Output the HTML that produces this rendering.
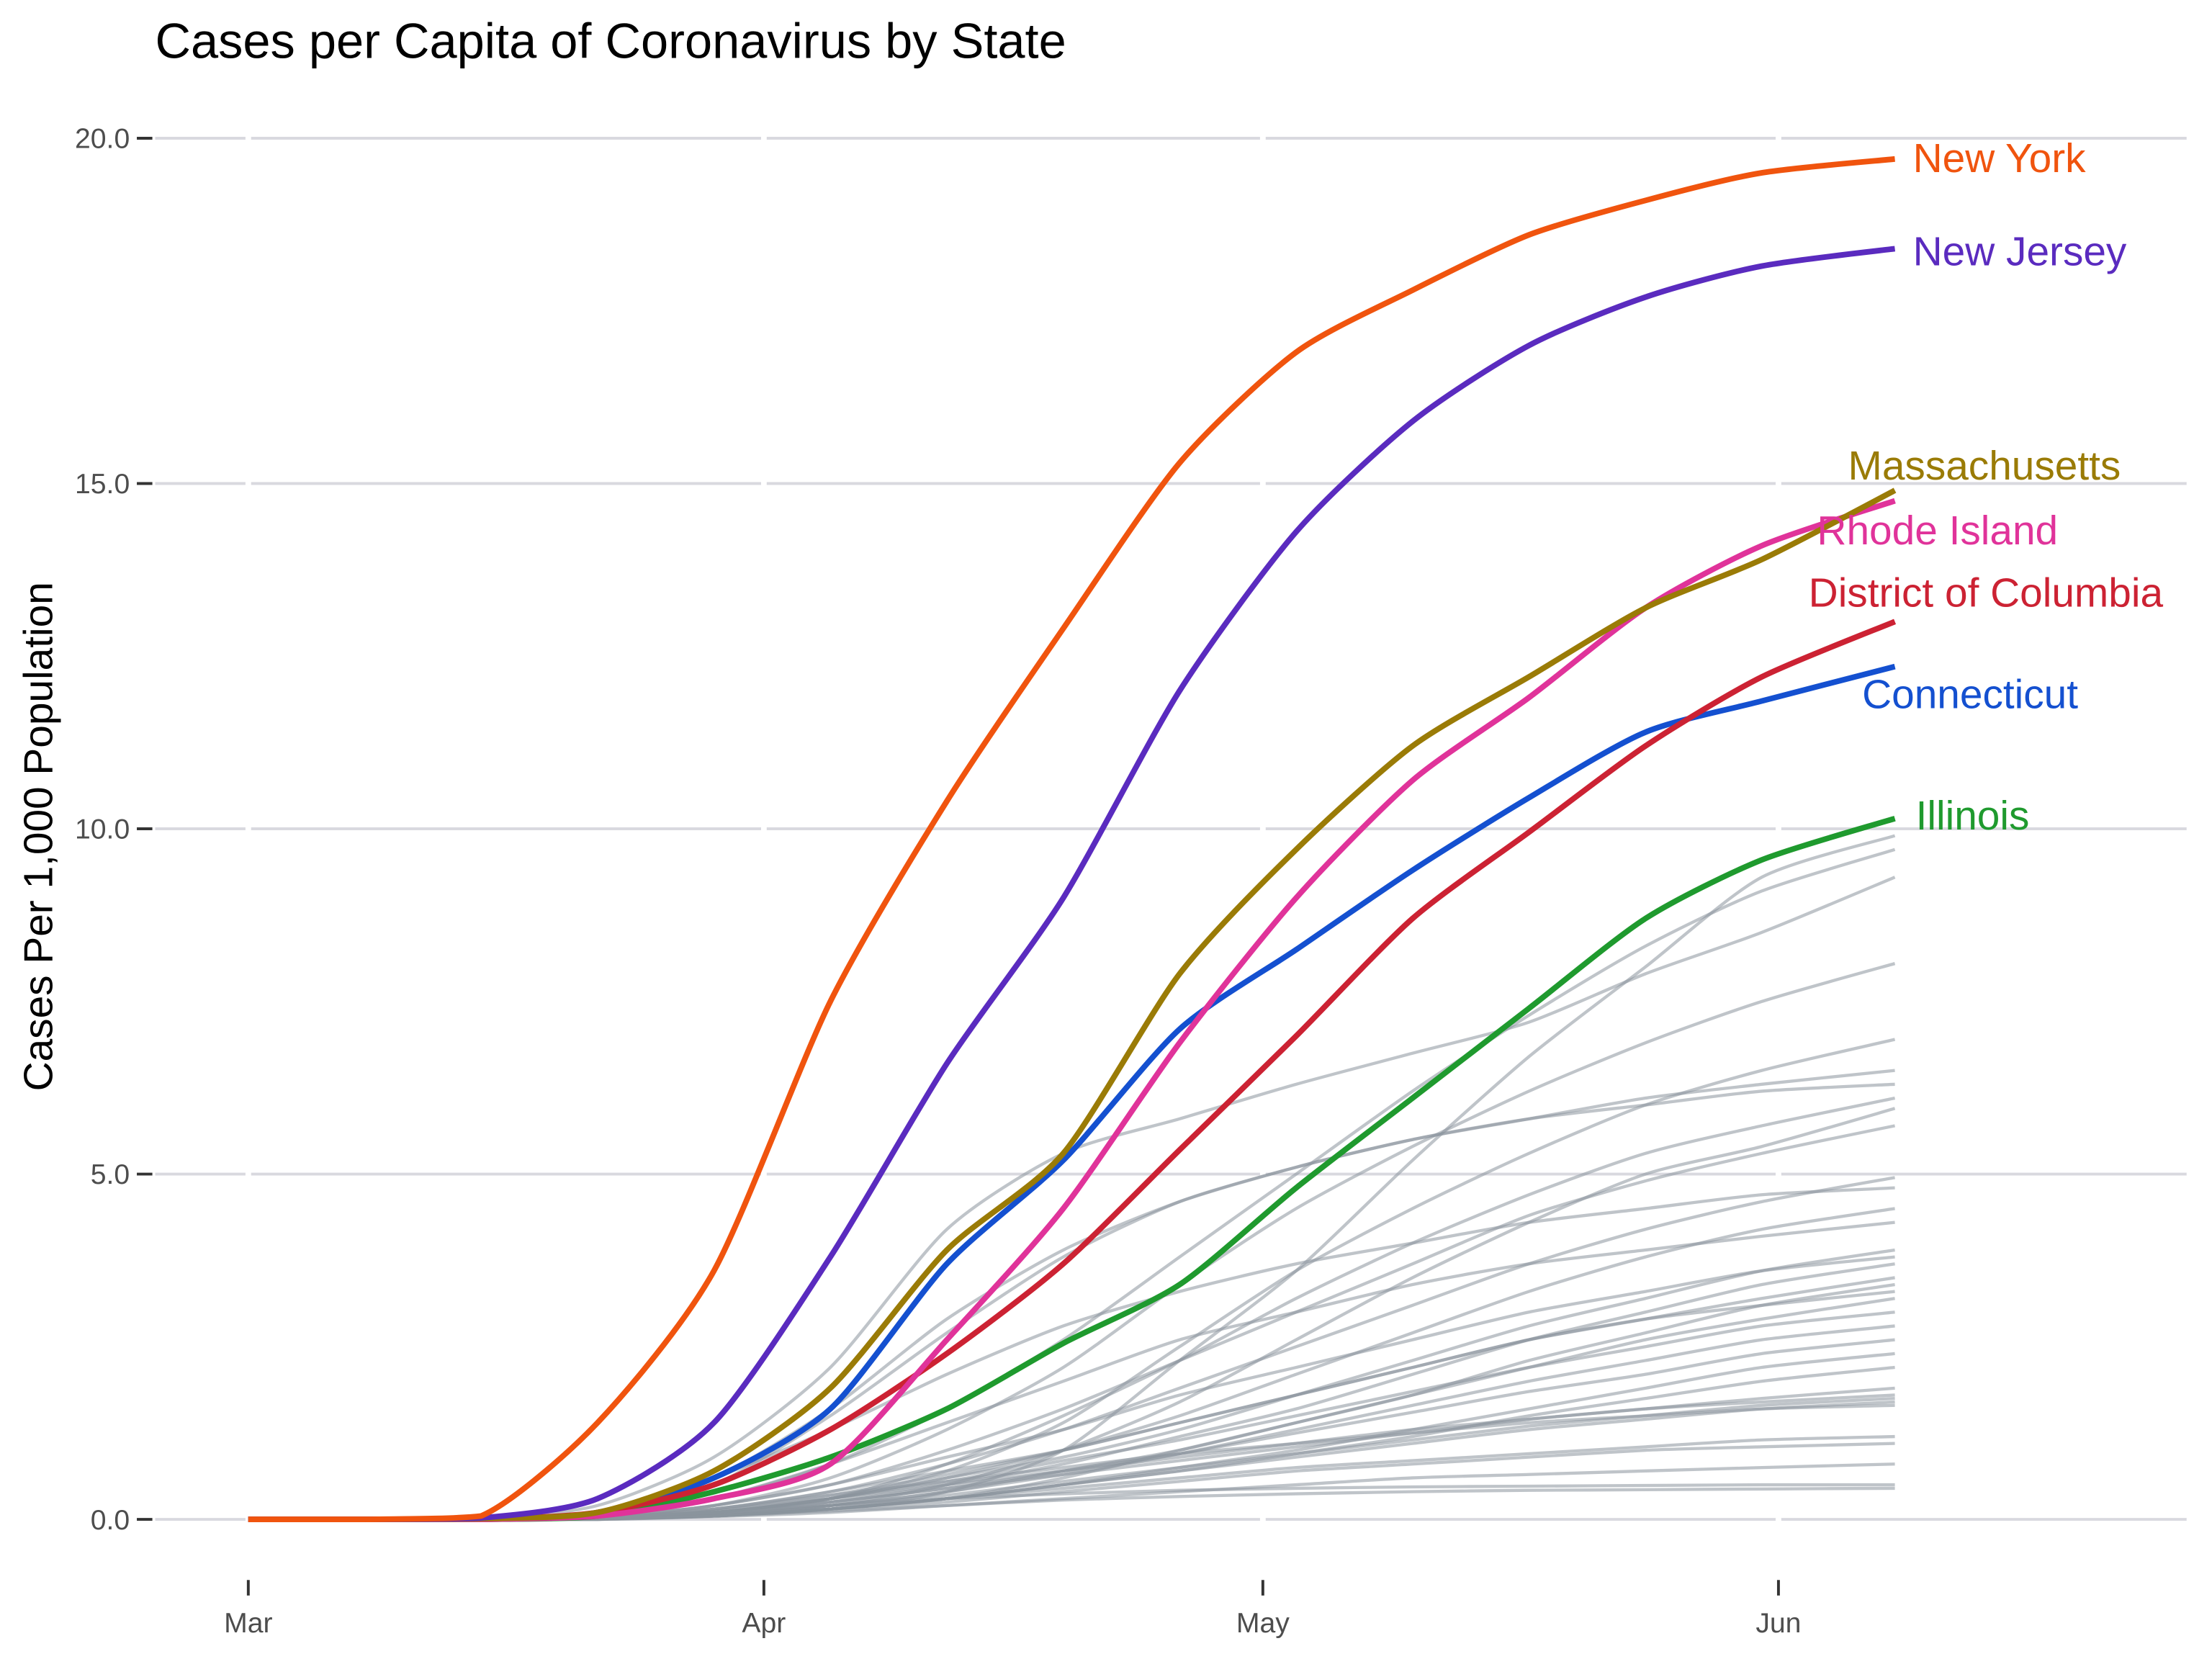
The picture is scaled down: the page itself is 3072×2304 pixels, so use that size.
<!DOCTYPE html>
<html><head><meta charset="utf-8"><style>
html,body{margin:0;padding:0;background:#fff;}
svg{display:block;font-family:"Liberation Sans",sans-serif;}
</style></head><body>
<svg id="chart" width="3072" height="2304" viewBox="0 0 1568 1176" xmlns="http://www.w3.org/2000/svg">
<rect x="0" y="0" width="1568" height="1176" fill="#fff"/>
<text x="110" y="41" font-size="35" fill="#000">Cases per Capita of Coronavirus by State</text>
<text transform="translate(37,593) rotate(-90)" text-anchor="middle" font-size="29" fill="#000">Cases Per 1,000 Population</text>
<g id="grid"></g>
<g id="axes"></g>
<g id="grey"></g>
<g id="hl"></g>
<g id="labels"></g>
</svg>
<script>
const days = [0,7,14,21,28,35,42,49,56,63,70,77,84,91,99];
const yTicks = [0,5,10,15,20];
const yTickLabels = ["0.0","5.0","10.0","15.0","20.0"];
const monthDays = [0,31,61,92];
const monthLabels = ["Mar","Apr","May","Jun"];
const hlNames = ["New York","New Jersey","Massachusetts","Rhode Island","District of Columbia","Connecticut","Illinois"];
const hlColors = ["#f0540e","#5a2bbf","#9a7b06","#e0339a","#cc2233","#1450d0","#1f9a2e"];
const newYork = [0,0,0.05,1.4,3.6,7.5,10.4,12.9,15.3,16.9,17.8,18.6,19.1,19.5,19.7];
const newJersey = [0,0,0.02,0.3,1.4,3.8,6.6,9.0,12.0,14.3,15.9,17.0,17.7,18.15,18.4];
const massachusetts = [0,0,0.01,0.1,0.7,1.9,3.9,5.3,7.9,9.7,11.2,12.2,13.2,13.9,14.9];
const rhodeIsland = [0,0,0,0.05,0.3,0.8,2.6,4.5,6.9,9.0,10.7,11.9,13.2,14.1,14.75];
const dc = [0,0,0,0.1,0.5,1.3,2.4,3.7,5.35,7.0,8.7,9.95,11.2,12.2,13.0];
const connecticut = [0,0,0,0.1,0.6,1.6,3.7,5.2,7.1,8.25,9.4,10.45,11.4,11.85,12.35];
const illinois = [0,0,0,0.05,0.4,0.9,1.6,2.55,3.4,4.8,6.1,7.4,8.7,9.55,10.15];
const hlSeries = [newYork,newJersey,massachusetts,rhodeIsland,dc,connecticut,illinois];
const g1=[0,0,0,0.2,0.9,2.2,4.2,5.3,5.8,6.3,6.75,7.2,7.9,8.5,9.3];
const g2=[0,0,0,0.05,0.3,0.8,1.6,2.6,3.8,5.0,6.2,7.3,8.3,9.1,9.7];
const g3=[0,0,0,0,0.05,0.15,0.4,1.0,2.3,3.6,5.2,6.7,8.0,9.3,9.9];
const g4=[0,0,0,0.05,0.2,0.6,1.3,2.2,3.4,4.5,5.4,6.2,6.9,7.5,8.05];
const g5=[0,0,0,0,0.1,0.3,0.7,1.4,2.5,3.6,4.5,5.3,6.0,6.5,6.95];
const g6=[0,0,0,0.05,0.5,1.5,2.7,3.8,4.6,5.1,5.5,5.8,6.1,6.3,6.5];
const g7=[0,0,0,0.1,0.6,1.6,2.9,3.9,4.6,5.1,5.5,5.8,6.0,6.2,6.3];
const g8=[0,0,0,0,0.1,0.3,0.8,1.5,2.3,3.2,4.0,4.7,5.3,5.7,6.1];
const g9=[0,0,0,0,0.05,0.2,0.5,1.0,1.7,2.6,3.5,4.3,5.0,5.4,5.95];
const g10=[0,0,0,0.02,0.2,0.5,1.0,1.6,2.3,3.0,3.7,4.4,4.9,5.3,5.7];
const g11=[0,0,0,0.02,0.15,0.4,0.8,1.3,1.9,2.5,3.1,3.7,4.2,4.6,4.95];
const g12=[0,0,0,0.1,0.6,1.3,2.1,2.8,3.3,3.7,4.0,4.3,4.5,4.7,4.8];
const g13=[0,0,0,0.02,0.1,0.3,0.6,1.0,1.5,2.1,2.7,3.3,3.8,4.2,4.5];
const g14=[0,0,0,0.05,0.3,0.8,1.4,2.0,2.6,3.0,3.4,3.7,3.9,4.1,4.3];
const g15=[0,0,0,0.02,0.1,0.3,0.6,0.9,1.3,1.8,2.3,2.8,3.2,3.6,3.9];
const g16=[0,0,0,0.02,0.2,0.5,0.9,1.3,1.8,2.2,2.6,3.0,3.3,3.6,3.8];
const g17=[0,0,0,0.01,0.08,0.25,0.5,0.8,1.2,1.6,2.1,2.6,3.0,3.4,3.7];
const g18=[0,0,0,0.02,0.15,0.4,0.7,1.0,1.4,1.8,2.2,2.6,2.9,3.2,3.5];
const g19=[0,0,0,0.01,0.05,0.15,0.3,0.6,1.0,1.4,1.8,2.3,2.7,3.1,3.4];
const g20=[0,0,0,0.02,0.12,0.35,0.65,1.0,1.4,1.8,2.2,2.6,2.9,3.1,3.3];
const g21=[0,0,0,0.01,0.06,0.2,0.4,0.7,1.0,1.4,1.8,2.2,2.6,2.9,3.2];
const g22=[0,0,0,0.02,0.1,0.3,0.55,0.85,1.15,1.5,1.85,2.2,2.5,2.8,3.0];
const g23=[0,0,0,0.01,0.06,0.2,0.4,0.65,0.95,1.3,1.65,2.0,2.3,2.6,2.8];
const g24=[0,0,0,0.02,0.1,0.25,0.45,0.7,0.95,1.25,1.55,1.85,2.1,2.4,2.6];
const g25=[0,0,0,0.01,0.05,0.15,0.3,0.5,0.75,1.0,1.3,1.6,1.9,2.2,2.4];
const g26=[0,0,0,0.01,0.05,0.15,0.3,0.5,0.7,0.95,1.2,1.5,1.75,2.0,2.2];
const g27=[0,0,0,0.02,0.1,0.25,0.45,0.65,0.85,1.05,1.25,1.45,1.6,1.75,1.9];
const g28=[0,0,0,0.02,0.12,0.3,0.5,0.7,0.9,1.1,1.3,1.45,1.6,1.7,1.8];
const g29=[0,0,0,0.01,0.06,0.2,0.35,0.55,0.75,0.95,1.15,1.35,1.5,1.65,1.75];
const g30=[0,0,0,0.01,0.05,0.15,0.3,0.5,0.7,0.9,1.1,1.3,1.45,1.6,1.7];
const g31=[0,0,0,0.02,0.15,0.35,0.55,0.75,0.95,1.1,1.25,1.4,1.5,1.6,1.65];
const g32=[0,0,0,0.01,0.06,0.15,0.3,0.45,0.6,0.75,0.85,0.95,1.05,1.15,1.2];
const g33=[0,0,0,0.01,0.05,0.15,0.25,0.4,0.55,0.7,0.8,0.9,1.0,1.05,1.1];
const g34=[0,0,0,0.01,0.04,0.1,0.2,0.3,0.4,0.5,0.6,0.65,0.7,0.75,0.8];
const g35=[0,0,0,0.02,0.1,0.2,0.3,0.37,0.42,0.45,0.47,0.48,0.49,0.5,0.5];
const g36=[0,0,0,0.01,0.05,0.12,0.2,0.28,0.33,0.37,0.4,0.42,0.43,0.44,0.45];
const greySeries=[g1,g2,g3,g4,g5,g6,g7,g8,g9,g10,g11,g12,g13,g14,g15,g16,g17,g18,g19,g20,g21,g22,g23,g24,g25,g26,g27,g28,g29,g30,g31,g32,g33,g34,g35,g36];

const NS="http://www.w3.org/2000/svg";
const X0=176, DAYPX=11.79, Y0=1077, Y20=98;
function xs(d){return X0+d*DAYPX;}
function ys(v){return Y0-(Y0-Y20)*v/20;}
function mk(tag,attrs,parent){const e=document.createElementNS(NS,tag);for(const k in attrs)e.setAttribute(k,attrs[k]);parent.appendChild(e);return e;}
function pathD(vals){
  const p=vals.map((v,i)=>[xs(days[i]),ys(v)]);
  let d="M"+p[0][0].toFixed(1)+","+p[0][1].toFixed(1);
  for(let i=0;i<p.length-1;i++){
    const a=p[Math.max(i-1,0)],b=p[i],c=p[i+1],e=p[Math.min(i+2,p.length-1)];
    let c1y=b[1]+(c[1]-a[1])/8, c2y=c[1]-(e[1]-b[1])/8;
    const lo=Math.min(b[1],c[1]),hi=Math.max(b[1],c[1]);
    c1y=Math.min(hi,Math.max(lo,c1y)); c2y=Math.min(hi,Math.max(lo,c2y));
    d+=" C"+(b[0]+(c[0]-a[0])/8).toFixed(1)+","+c1y.toFixed(1)+" "+(c[0]-(e[0]-b[0])/8).toFixed(1)+","+c2y.toFixed(1)+" "+c[0].toFixed(1)+","+c[1].toFixed(1);
  }
  return d;
}
const grid=document.getElementById('grid'), axes=document.getElementById('axes');
yTicks.forEach((t,i)=>{
  const l=mk('line',{x1:110,x2:1550,y1:ys(t),y2:ys(t),stroke:'#d9d9df','stroke-width':2},grid);
  
  
  const tk=mk('line',{x1:97,x2:108,y1:ys(t),y2:ys(t),stroke:'#333','stroke-width':2},axes);
  
  
  const tx=mk('text',{x:92,y:ys(t)+7,'text-anchor':'end','font-size':20,fill:'#4d4d4d'},axes);
  tx.textContent=yTickLabels[i];
  
  
});
monthDays.forEach((d,i)=>{
  const l=mk('line',{x1:xs(d),x2:xs(d),y1:60,y2:1100,stroke:'#fff','stroke-width':4},grid);
  
  
  const tk=mk('line',{x1:xs(d),x2:xs(d),y1:1120,y2:1131,stroke:'#333','stroke-width':2},axes);
  
  
  const tx=mk('text',{x:xs(d),y:1157,'text-anchor':'middle','font-size':20,fill:'#4d4d4d'},axes);
  tx.textContent=monthLabels[i];
  
  
});
const grey=document.getElementById('grey');
greySeries.forEach(s=>{
  const p=mk('path',{d:pathD(s),fill:'none',stroke:'#8a949c','stroke-opacity':0.55,'stroke-width':2.2},grey);
  
  
});
const hl=document.getElementById('hl'), labels=document.getElementById('labels');
const labelPos=[[1356,122],[1356,188],[1310,340],[1288,386],[1282,430],[1320,502],[1358,588]];
for(let i=hlSeries.length-1;i>=0;i--){
  const s=hlSeries[i];
  const p=mk('path',{d:pathD(s),fill:'none',stroke:hlColors[i],'stroke-width':4,'stroke-linejoin':'round'},hl);
  
  
}
hlNames.forEach((n,i)=>{
  const t=mk('text',{x:labelPos[i][0],y:labelPos[i][1],'font-size':29,fill:hlColors[i]},labels);
  t.textContent=n;
  
  
});
</script>
</body></html>
